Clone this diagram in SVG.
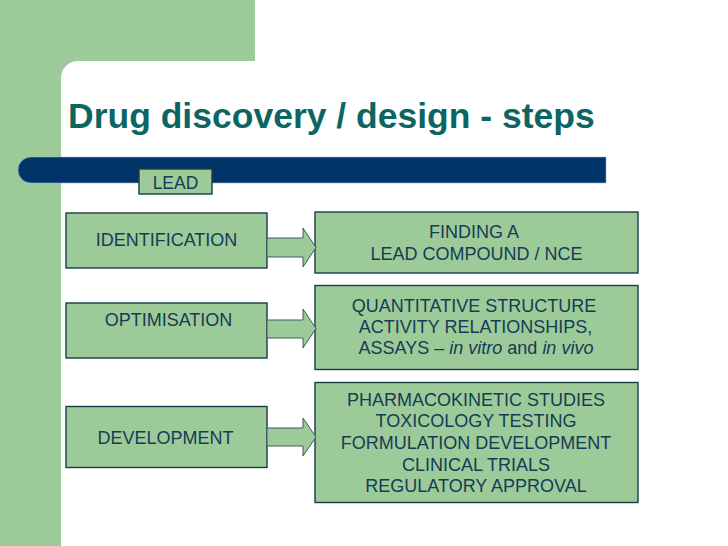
<svg xmlns="http://www.w3.org/2000/svg" width="728" height="546" viewBox="0 0 728 546">
<defs>
<style>
.box{fill:#9ccb99;stroke:#1b3b48;stroke-width:1.4}
.arrow{fill:#9ccb99;stroke:#3e5b60;stroke-width:1}
.t{font-family:"Liberation Sans",Arial,sans-serif;font-size:18px;fill:#163b55;text-anchor:middle}
.title{font-family:"Liberation Sans",Arial,sans-serif;font-size:35.5px;font-weight:bold;fill:#0d6563}
</style>
</defs>
<rect x="0" y="0" width="728" height="546" fill="#9ccb99"/>
<path d="M61,546 L61,78 A17,17 0 0 1 78,61 L255,61 L255,0 L728,0 L728,546 Z" fill="#ffffff"/>
<text class="title" x="68" y="128">Drug discovery / design - steps</text>
<path d="M31,157 L606,157 L606,183 L31,183 A13,13 0 0 1 31,157 Z" fill="#003468" stroke="#8fb3d3" stroke-width="0.6"/>
<g id="lead">
<rect class="box" x="139" y="169" width="73" height="25"/>
<text class="t" x="175.5" y="188.5" style="font-size:17.5px">LEAD</text>
</g>
<g id="identification">
<rect class="box" x="66" y="213" width="201" height="55"/>
<text class="t" x="166.5" y="246">IDENTIFICATION</text>
</g>
<g id="optimisation">
<rect class="box" x="66" y="303" width="201" height="55"/>
<text class="t" x="168.5" y="326">OPTIMISATION</text>
</g>
<g id="development">
<rect class="box" x="66" y="406.5" width="201" height="61"/>
<text class="t" x="165.5" y="444">DEVELOPMENT</text>
</g>
<g id="finding">
<rect class="box" x="315" y="212" width="323" height="61"/>
<text class="t" x="474" y="238">FINDING A</text>
<text class="t" x="476.5" y="260">LEAD COMPOUND / NCE</text>
</g>
<g id="qsar">
<rect class="box" x="315" y="285.5" width="323" height="84"/>
<text class="t" x="474" y="311.5">QUANTITATIVE STRUCTURE</text>
<text class="t" x="475.5" y="332.5">ACTIVITY RELATIONSHIPS,</text>
<text class="t" x="476" y="354">ASSAYS – <tspan font-style="italic">in vitro</tspan> and <tspan font-style="italic">in vivo</tspan></text>
</g>
<g id="studies">
<rect class="box" x="315" y="382.5" width="323" height="120"/>
<text class="t" x="476" y="405.5">PHARMACOKINETIC STUDIES</text>
<text class="t" x="476" y="427">TOXICOLOGY TESTING</text>
<text class="t" x="476" y="448.5">FORMULATION DEVELOPMENT</text>
<text class="t" x="476" y="470.5">CLINICAL TRIALS</text>
<text class="t" x="476" y="492">REGULATORY APPROVAL</text>
</g>
<g id="connectors">
<path class="arrow" d="M267,238 L303,238 L303,228 L316,247.5 L303,267 L303,257 L267,257 Z"/>
<path class="arrow" d="M267,320 L303,320 L303,309 L316,328.5 L303,348 L303,338 L267,338 Z"/>
<path class="arrow" d="M267,428 L303,428 L303,418 L316,437 L303,456 L303,446 L267,446 Z"/>
</g>
</svg>
